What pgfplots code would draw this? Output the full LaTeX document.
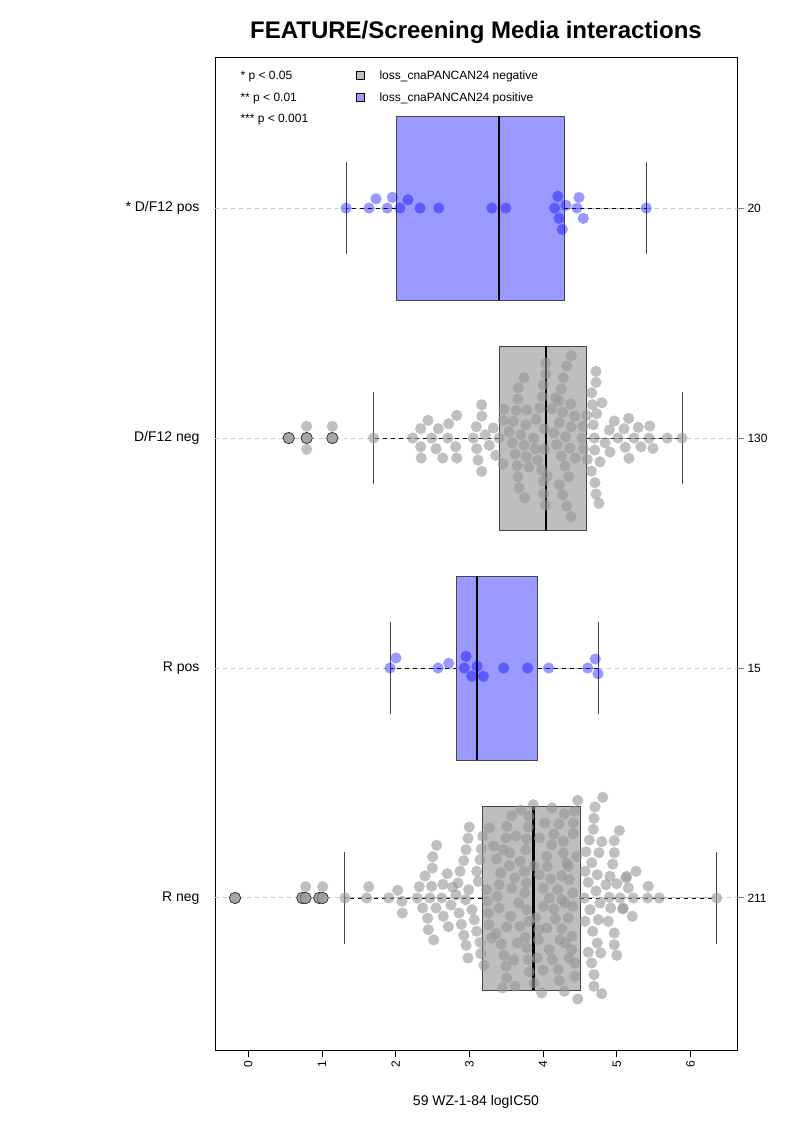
\documentclass[border=0pt]{standalone}
\usepackage{fontspec}
\setmainfont{Liberation Sans}
\usepackage{pgfplots}
\usepackage{pgfplotstable}
\pgfplotsset{compat=1.18}
\usepgfplotslibrary{statistics}
\definecolor{boxgray}{RGB}{190,190,190}
\definecolor{boxblue}{RGB}{153,153,255}
\definecolor{ptgray}{RGB}{150,150,150}
\definecolor{guide}{RGB}{200,200,200}
\definecolor{edge}{RGB}{70,70,70}

% beeswarm points: x = logIC50, dy = vertical swarm offset (reference px, 230 px per category)
\pgfplotstableread{
x dy
1.326 0
1.638 0
1.733 9.3
1.886 0
1.954 10.7
2.058 0
2.167 8.3
2.330 0
2.583 0
3.303 0
3.493 0
4.198 11.7
4.157 0
4.311 2.7
4.216 -10.3
4.261 -21.3
4.487 10.7
4.460 0
4.545 -10.3
5.400 0
}\dfpos

\pgfplotstableread{
x dy
1.923 0
2.004 10
2.574 0
2.719 4.7
2.954 11.7
2.931 0
3.031 -8.3
3.103 1.7
3.189 -8.3
3.465 0
3.790 0
4.076 0
4.605 0
4.708 9
4.745 -5.7
}\rpos

\pgfplotstableread{
x dy
0.548 0
0.792 0
0.792 11.7
0.792 -11.3
1.140 0
1.140 11.7
1.701 0
2.231 0
2.339 9.3
2.339 -8.7
2.347 -20
2.438 17.7
2.488 0
2.578 9.3
2.547 -10.7
2.638 -20
2.719 14.3
2.706 0
2.828 22.7
2.814 -8.7
2.828 -20
3.167 33.3
3.167 22
3.094 11.3
3.053 0
3.099 -10.7
3.117 -22
3.167 -33.3
3.216 3.3
3.270 -7.3
3.324 10
3.357 -17.3
3.402 0
3.469 29
3.460 17.7
3.456 -25.7
3.537 6.3
3.582 -4.7
3.596 16.7
3.636 27.7
3.619 -16
3.650 -27.3
3.659 39
3.663 50.3
3.741 60.3
3.659 -38.7
3.673 -50
3.750 -60
3.696 3.3
3.741 -7.3
3.768 13.3
3.772 -18.7
3.872 0
3.904 18.7
3.894 -10.7
3.927 -22
3.954 30
3.989 41.3
4.003 53
4.035 64.3
4.035 75
3.981 -32
4.003 -43.3
4.008 -55.7
4.030 -67
4.016 9.3
4.016 -11.3
4.117 29.3
4.148 5.3
4.184 -6.7
4.212 37
4.247 49
4.274 60.3
4.320 72
4.220 15.3
4.266 26
4.307 1.3
4.247 -18
4.297 -28
4.347 -38.7
4.220 -46.7
4.266 -57
4.320 -68
4.379 -78.7
4.374 34
4.379 11.3
4.361 -10
4.429 22
4.437 -20
4.541 11.7
4.528 0
4.551 -10.7
4.592 22.7
4.600 -21.3
4.659 45.3
4.668 33.3
4.654 -33
4.704 -44.7
4.718 66.7
4.718 55.7
4.718 -56
4.758 -65.3
4.681 13.3
4.695 0
4.727 24.3
4.700 -12
4.799 35.3
4.772 -23.7
4.898 8
4.966 17
4.840 -4.7
4.908 -14
5.016 0
5.098 9.3
5.161 19.7
5.115 -9.3
5.165 -20.3
5.233 0
5.292 10.7
5.328 -8.7
5.446 12
5.437 0
5.491 -10.3
5.685 0
5.885 0
4.383 82.3
3.782 28
3.808 -29
4.057 -38
4.170 40
}\dfneg

\pgfplotstableread{
x dy
-0.180 0
0.733 0
0.776 0
0.778 11.3
0.963 0
1.009 0
1.009 11.3
1.312 0
1.607 0
1.634 11.3
1.905 0
2.027 7.7
2.085 -3.3
2.090 -15
2.293 0
2.320 11.3
2.366 -10
2.398 22
2.434 -20.3
2.442 -31.7
2.497 30
2.502 41.3
2.556 52.7
2.516 -42
2.488 11.7
2.465 0
2.547 -10
2.624 0
2.642 13.7
2.646 -18.3
2.700 24.3
2.714 -28.7
2.750 -7
2.773 10.7
2.873 26.7
2.923 37.3
2.954 48.3
2.981 59.7
2.999 71
2.845 15
2.818 3
2.859 -15
2.890 -26.3
2.923 -37.3
2.954 -47.3
2.981 -60
2.990 8.3
2.950 -1.7
3.035 -11.7
3.066 -21.7
3.099 -33.3
3.144 -44.3
3.153 -55.7
3.198 -67.3
3.099 26.7
3.144 38.3
3.161 49
3.180 61.7
3.270 70
3.121 16.7
3.235 8.3
3.243 -3.3
3.256 -15
3.266 -26.7
3.370 39.3
3.402 13.3
3.425 25
3.460 48.3
3.493 60
3.506 71.7
3.574 82.3
3.379 1.7
3.402 -10
3.361 -35.7
3.433 -46
3.469 -57.3
3.497 -68.3
3.506 -80
3.506 -29
3.541 32.3
3.574 9.7
3.615 20
3.560 -18.3
3.669 -5
3.687 -28.3
3.687 36.7
3.764 48.3
3.777 59
3.799 71
3.809 81.7
3.867 93.3
3.745 26.7
3.750 5
3.777 -11.7
3.758 -39.3
3.782 -50
3.799 -61.7
3.813 -73.7
3.876 -85
3.777 15
3.813 -23.3
3.948 23.3
3.999 10
3.935 -41.7
3.940 -31.7
4.003 -8.3
4.049 41.7
4.057 31.7
4.117 53.3
4.144 64
4.216 74
4.288 84.3
4.103 19
4.084 0
4.148 -11
4.166 -21
4.084 -51.7
4.125 -61.7
4.206 -71.7
4.220 -82.7
4.288 -93.3
4.198 8.3
4.252 22.3
4.274 45
4.274 56.7
4.410 75
4.429 86.7
4.469 97.7
4.252 -31
4.229 -41.7
4.252 -1.7
4.342 31.7
4.356 18.3
4.402 5
4.402 -8.3
4.342 -20
4.388 -38.3
4.388 -51.7
4.433 -65
4.433 -78.3
4.469 -101
4.456 41.7
4.410 64.3
4.809 100.7
4.704 91
4.690 79.7
4.681 68.7
5.034 67.3
4.627 58
4.795 56.3
4.966 57.3
4.582 46.3
4.758 45.3
4.966 45.3
4.659 35.3
4.944 34
4.569 26.7
4.735 23.3
4.908 21.7
5.125 20
4.613 15.7
4.853 13.3
4.999 14.3
4.718 7
5.043 0
4.898 0.7
4.559 0
4.772 -5
4.636 -11.7
4.917 -10
5.088 -10
4.569 -23.3
4.749 -21.7
4.885 -23.3
4.673 -33.3
4.966 -35
4.735 -45
4.966 -46.7
4.613 -54.3
4.782 -55
4.999 -57.3
4.659 -65
4.690 -76.7
4.690 -88.3
4.795 -95.7
5.261 26.7
5.134 21.7
5.156 10
5.224 0
5.080 -11
5.210 -18.3
5.427 11.7
5.419 0
5.577 0
6.356 0
3.300 -40
3.330 52
3.600 -62
3.630 62
3.650 -45
3.550 45
3.920 -60
3.950 60
3.900 -20
3.880 32
4.000 -72
4.020 75
4.300 -5
4.320 35
4.350 -60
4.300 -45
4.050 -30
3.980 -95
4.120 90
3.700 88
3.450 -90
3.620 -88
}\rneg

\begin{document}
\begin{tikzpicture}
\useasboundingbox (0,0) rectangle (793pt,1122pt);
\begin{axis}[
  at={(215pt,72pt)}, anchor=south west,
  scale only axis, width=522pt, height=993pt,
  xmin=-0.4518, xmax=6.6309, ymin=0.339, ymax=4.657,
  axis line style={black, line width=0.9pt},
  xtick={0,1,2,3,4,5,6}, xtick pos=lower,
  tick align=outside, major tick length=7pt,
  xtick style={black, line width=0.8pt},
  xticklabel style={rotate=90, anchor=east, font=\fontsize{12}{14}\selectfont},
  /pgf/number format/assume math mode=true,
  ytick={1,2,3,4}, ytick pos=left,
  yticklabels={R neg, R pos, D/F12 neg, * D/F12 pos},
  ytick style={draw=none},
  yticklabel style={font=\fontsize{14}{16}\selectfont, xshift=-5pt},
  title={FEATURE/Screening Media interactions},
  title style={font=\fontsize{24}{28}\bfseries\selectfont, at={(axis description cs:0.5,1)}, anchor=base, yshift=12pt},
  xlabel={59 WZ-1-84 logIC50},
  xlabel style={font=\fontsize{14}{16}\selectfont, at={(axis description cs:0.5,0)}, anchor=base, yshift=-55pt},
  clip=true,
  swarm/.style={only marks, mark=*, mark size=5.6pt,
    mark options={draw opacity=0, fill=#1, fill opacity=0.6}},
  bswarm/.style={only marks, mark=*, mark size=5.6pt,
    mark options={draw opacity=0, fill=blue, fill opacity=0.4}},
]
% guide lines
\addplot[guide, line width=1pt, dash pattern=on 4pt off 4pt, forget plot] coordinates {(-0.4518,1) (6.6309,1)};
\addplot[guide, line width=1pt, dash pattern=on 4pt off 4pt, forget plot] coordinates {(-0.4518,2) (6.6309,2)};
\addplot[guide, line width=1pt, dash pattern=on 4pt off 4pt, forget plot] coordinates {(-0.4518,3) (6.6309,3)};
\addplot[guide, line width=1pt, dash pattern=on 4pt off 4pt, forget plot] coordinates {(-0.4518,4) (6.6309,4)};

% boxes
\pgfplotsset{
  mybox/.style={draw=edge, line width=0.8pt,
    boxplot/box extend=0.8, boxplot/whisker extend=0,
    boxplot/every whisker/.style={black, line width=0.8pt, dash pattern=on 4pt off 4pt},
    boxplot/every median/.style={black, line width=2.6pt}}
}
\addplot[mybox, fill=boxgray, boxplot prepared={draw position=1, lower whisker=1.312, lower quartile=3.171, median=3.872, upper quartile=4.505, upper whisker=6.356}] coordinates {};
\addplot[mybox, fill=boxblue, boxplot prepared={draw position=2, lower whisker=1.923, lower quartile=2.828, median=3.103, upper quartile=3.927, upper whisker=4.745}] coordinates {};
\addplot[mybox, fill=boxgray, boxplot prepared={draw position=3, lower whisker=1.701, lower quartile=3.406, median=4.039, upper quartile=4.592, upper whisker=5.885}] coordinates {};
\addplot[mybox, fill=boxblue, boxplot prepared={draw position=4, lower whisker=1.330, lower quartile=2.008, median=3.402, upper quartile=4.288, upper whisker=5.400}] coordinates {};

% staples
\addplot[edge, line width=1pt] coordinates {(1.312,0.8) (1.312,1.2)};
\addplot[edge, line width=1pt] coordinates {(6.356,0.8) (6.356,1.2)};
\addplot[edge, line width=1pt] coordinates {(1.923,1.8) (1.923,2.2)};
\addplot[edge, line width=1pt] coordinates {(4.745,1.8) (4.745,2.2)};
\addplot[edge, line width=1pt] coordinates {(1.701,2.8) (1.701,3.2)};
\addplot[edge, line width=1pt] coordinates {(5.885,2.8) (5.885,3.2)};
\addplot[edge, line width=1pt] coordinates {(1.330,3.8) (1.330,4.2)};
\addplot[edge, line width=1pt] coordinates {(5.400,3.8) (5.400,4.2)};

% boxplot outliers
\addplot[only marks, mark=*, mark size=5.6pt, mark options={draw=black, fill=boxgray, line width=0.8pt}]
  coordinates {(-0.180,1) (0.733,1) (0.776,1) (0.963,1) (1.009,1) (0.548,3) (0.792,3) (1.140,3)};

% beeswarm points
\addplot[swarm=ptgray] table[x=x, y expr=1+\thisrow{dy}/230] {\rneg};
\addplot[bswarm] table[x=x, y expr=2+\thisrow{dy}/230] {\rpos};
\addplot[swarm=ptgray] table[x=x, y expr=3+\thisrow{dy}/230] {\dfneg};
\addplot[bswarm] table[x=x, y expr=4+\thisrow{dy}/230] {\dfpos};
\end{axis}

% right-hand group sizes
\begin{axis}[
  at={(215pt,72pt)}, anchor=south west,
  scale only axis, width=522pt, height=993pt,
  xmin=-0.4518, xmax=6.6309, ymin=0.339, ymax=4.657,
  hide x axis, axis y line*=right,
  y axis line style={draw=none},
  ytick={1,2,3,4}, yticklabels={211,15,130,20},
  tick align=outside, major tick length=7pt,
  ytick style={gray, line width=1pt},
  yticklabel style={font=\fontsize{12}{14}\selectfont},
]
\addplot[draw=none, forget plot] coordinates {(0,1)};
\end{axis}

% legend / significance key
\node[anchor=base west, font=\fontsize{12}{14}\selectfont] at (237pt,1042pt) {* p < 0.05};
\node[anchor=base west, font=\fontsize{12}{14}\selectfont] at (237pt,1020pt) {** p < 0.01};
\node[anchor=base west, font=\fontsize{12}{14}\selectfont] at (237pt,999.3pt) {*** p < 0.001};
\node[draw=black, fill=boxgray, minimum size=8pt, inner sep=0pt, line width=0.6pt] at (360.7pt,1046.7pt) {};
\node[draw=black, fill=boxblue, minimum size=8pt, inner sep=0pt, line width=0.6pt] at (360.7pt,1024.5pt) {};
\node[anchor=base west, font=\fontsize{12}{14}\selectfont] at (376pt,1042pt) {loss\_cnaPANCAN24 negative};
\node[anchor=base west, font=\fontsize{12}{14}\selectfont] at (376pt,1020pt) {loss\_cnaPANCAN24 positive};
\end{tikzpicture}
\end{document}
